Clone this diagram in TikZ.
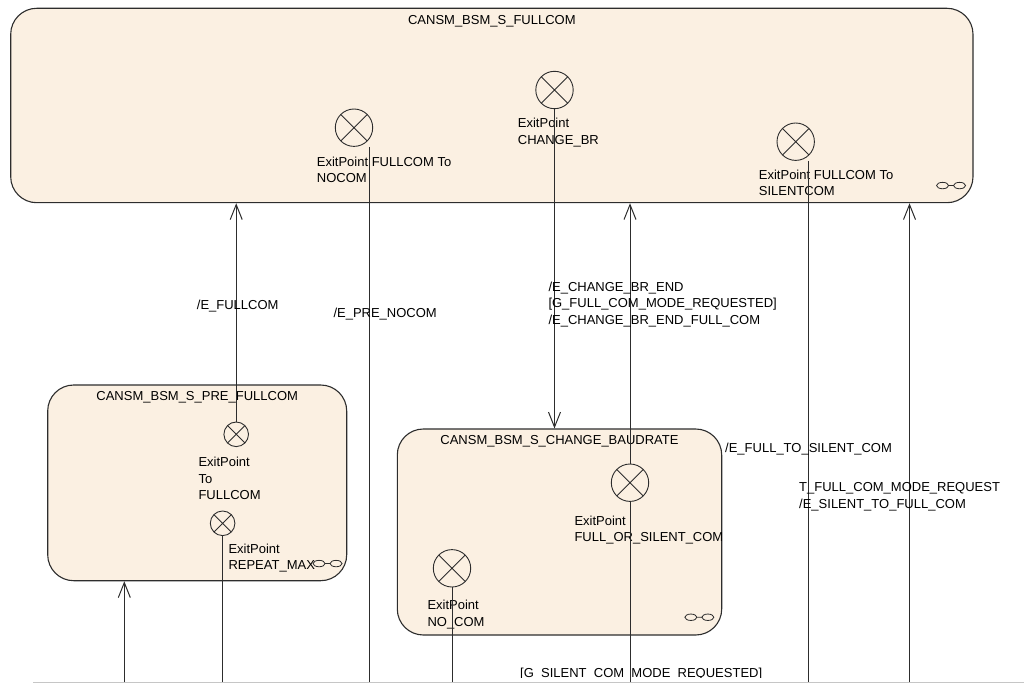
\documentclass[tikz,border=0pt]{standalone}
\usepackage{fontspec}
\setmainfont{Liberation Sans}
\usepackage{xcolor}
\usetikzlibrary{positioning,arrows.meta}
\definecolor{statefill}{RGB}{251,240,226}
\definecolor{edge}{RGB}{45,45,45}

\begin{document}
\begin{tikzpicture}[
    x=1pt, y=-1pt,
    font=\fontsize{13pt}{16.3pt}\selectfont,
    state/.style={rectangle, rounded corners=26pt, draw=edge, line width=1.1pt, fill=statefill, inner sep=0pt},
    exitpt/.style={circle, draw=edge, line width=0.9pt, fill=statefill, inner sep=0pt, minimum size=#1,
        path picture={\draw[edge, line width=0.9pt]
            (path picture bounding box.north west) -- (path picture bounding box.south east)
            (path picture bounding box.north east) -- (path picture bounding box.south west);}},
    lbl/.style={anchor=north west, inner sep=0pt, align=left},
    trans/.style={draw=edge, line width=1pt},
    tip/.style={-{Straight Barb[length=15pt,width=12pt]}},
    compicon/.pic={\draw[edge, line width=0.8pt] (-8.5,0) ellipse (6pt and 3.2pt) (8.5,0) ellipse (6pt and 3.2pt) (-2.5,0) -- (2.5,0);}
]
\useasboundingbox (0,0) rectangle (1024,684);

% states
\node[state, minimum width=962.3pt, minimum height=194.4pt] (fullcom) at (491.85,105.5) {};
\node[inner sep=0pt, below=7pt of fullcom.north] (fullcomtitle) {CANSM\_BSM\_S\_FULLCOM};
\pic at ([xshift=-22.5pt,yshift=17.7pt]fullcom.south east) {compicon};

\node[state, minimum width=299pt, minimum height=195.7pt] (prefull) at (197.2,482.85) {};
\node[inner sep=0pt, below=7pt of prefull.north] (prefulltitle) {CANSM\_BSM\_S\_PRE\_FULLCOM};

\node[state, minimum width=324.4pt, minimum height=206pt] (chbaud) at (559.5,532) {};
\node[inner sep=0pt, below=7pt of chbaud.north] (chbaudtitle) {CANSM\_BSM\_S\_CHANGE\_BAUDRATE};
\pic at ([xshift=-22.9pt,yshift=18.3pt]chbaud.south east) {compicon};

% exit points of FULLCOM
\node[exitpt=37.4] (xnocom) at (354,127.7) {};
\node[exitpt=37.4] (xchgbr) at (554.5,90) {};
\node[exitpt=37.4] (xsilent) at (795.7,141.7) {};
\node[lbl] (xnocomlbl) at (316.7,156.7) {ExitPoint FULLCOM To\\NOCOM};
\node[lbl] (xchgbrlbl) at (517.7,118.3) {ExitPoint\\CHANGE\_BR};
\node[lbl] (xsilentlbl) at (758.7,170) {ExitPoint FULLCOM To\\SILENTCOM};

% exit points of PRE_FULLCOM
\node[exitpt=24.6] (xtofull) at (236.2,434.3) {};
\node[exitpt=24.6] (xrepeat) at (222.6,523.3) {};
\node[lbl] (xtofulllbl) at (198.3,457.3) {ExitPoint\\To\\FULLCOM};
\node[lbl] (xrepeatlbl) at (228.3,544) {ExitPoint\\REPEAT\_MAX};
\pic at ([xshift=-19.7pt,yshift=17.7pt]prefull.south east) {compicon};

% exit points of CHANGE_BAUDRATE
\node[exitpt=37.4] (xfullsil) at (630,482.7) {};
\node[exitpt=37.4] (xnocomcb) at (452,568.3) {};
\node[lbl] (xfullsillbl) at (574.3,516) {ExitPoint\\FULL\_OR\_SILENT\_COM};
\node[lbl] (xnocomcblbl) at (427.3,600.3) {ExitPoint\\NO\_COM};

% loose ends at the bottom
\coordinate (bprefull) at (124.3,682);
\coordinate (bnocom) at (369.3,682);
\coordinate (bfullsil) at (630,682);
\coordinate (bsilent) at (808.7,682);
\coordinate (bsilfull) at (909.5,682);
\draw[color=gray!45, line width=1pt] (33,682) -- (1024,682);

% transitions
\draw[trans, tip] (bprefull) -- (bprefull |- prefull.south);
\draw[trans, tip] (xtofull.north) -- (xtofull.north |- fullcom.south);
\draw[trans] (xrepeat.south) -- (xrepeat.south |- bprefull);
\draw[trans] (bnocom |- xnocom.south) -- (bnocom);
\draw[trans, tip] (xchgbr.south) -- (xchgbr.south |- chbaud.north);
\draw[trans] (bsilent |- xsilent.south) -- (bsilent);
\draw[trans] (xnocomcb.south) -- (xnocomcb.south |- bprefull);
\draw[trans] (bfullsil) -- (xfullsil.south);
\draw[trans, tip] (xfullsil.north) -- (xfullsil.north |- fullcom.south);
\draw[trans, tip] (bsilfull) -- (bsilfull |- fullcom.south);

% transition labels
\node[lbl] (efullcom) at (196.7,299.5) {/E\_FULLCOM};
\node[lbl] (eprenocom) at (333.3,308) {/E\_PRE\_NOCOM};
\node[lbl] (echgbrend) at (548.3,282) {/E\_CHANGE\_BR\_END\\{}[G\_FULL\_COM\_MODE\_REQUESTED]\\/E\_CHANGE\_BR\_END\_FULL\_COM};
\node[lbl] (efulltosil) at (725,443) {/E\_FULL\_TO\_SILENT\_COM};
\node[lbl] (tfullreq) at (799,482.7) {T\_FULL\_COM\_MODE\_REQUEST\\/E\_SILENT\_TO\_FULL\_COM};
\begin{scope}
\clip (480,640) rectangle (800,677.6);
\node[anchor=base west, inner sep=0pt] (gsilent) at (520,677.3) {[G\_SILENT\_COM\_MODE\_REQUESTED]};
\end{scope}

\end{tikzpicture}
\end{document}
